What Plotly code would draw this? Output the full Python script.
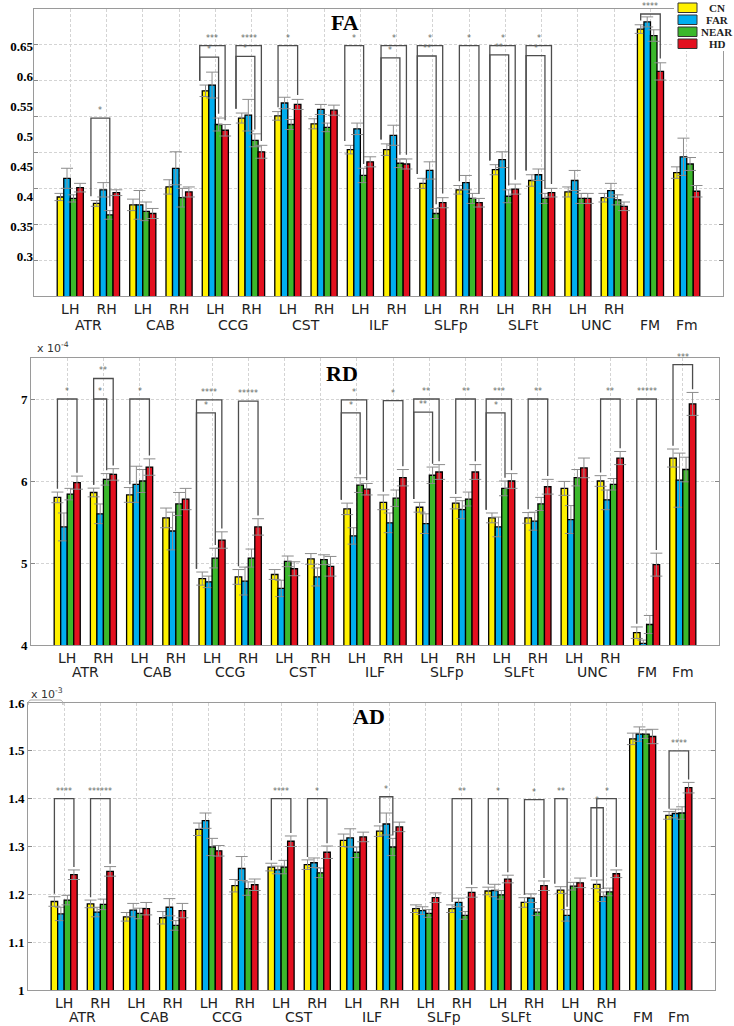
import plotly.graph_objects as go

W, H = 734, 1026

# ---------------- data ----------------
categories = list(range(18))
hemi_labels = ["LH", "RH"] * 8 + ["", ""]
tract_names = ["ATR", "CAB", "CCG", "CST", "ILF", "SLFp", "SLFt", "UNC", "FM", "Fm"]
tract_pos = [0.5, 2.5, 4.5, 6.5, 8.5, 10.5, 12.5, 14.5, 16, 17]
series = ["CN", "FAR", "NEAR", "HD"]
colors = ["#FFF100", "#00AEEF", "#3BB82B", "#E3101F"]

# FA
FA_CN = [0.438, 0.429, 0.427, 0.452, 0.586, 0.548, 0.551, 0.540, 0.504, 0.504, 0.457, 0.448, 0.476, 0.461, 0.445, 0.437, 0.672, 0.472]
FA_FAR = [0.464, 0.448, 0.427, 0.478, 0.594, 0.552, 0.569, 0.560, 0.533, 0.524, 0.475, 0.458, 0.490, 0.469, 0.461, 0.447, 0.682, 0.494]
FA_NEAR = [0.436, 0.413, 0.418, 0.437, 0.539, 0.517, 0.539, 0.535, 0.468, 0.485, 0.415, 0.436, 0.439, 0.436, 0.436, 0.434, 0.663, 0.484]
FA_HD = [0.451, 0.444, 0.415, 0.445, 0.531, 0.501, 0.567, 0.559, 0.487, 0.484, 0.430, 0.430, 0.449, 0.444, 0.436, 0.425, 0.613, 0.446]
FA_CN_err = [0.005, 0.004, 0.008, 0.010, 0.008, 0.007, 0.006, 0.007, 0.006, 0.008, 0.007, 0.006, 0.007, 0.008, 0.007, 0.006, 0.006, 0.008]
FA_FAR_err = [0.014, 0.010, 0.020, 0.023, 0.018, 0.022, 0.008, 0.007, 0.008, 0.014, 0.012, 0.010, 0.011, 0.008, 0.014, 0.010, 0.007, 0.026]
FA_NEAR_err = [0.005, 0.006, 0.013, 0.013, 0.009, 0.009, 0.007, 0.006, 0.010, 0.006, 0.007, 0.007, 0.009, 0.007, 0.007, 0.007, 0.008, 0.009]
FA_HD_err = [0.006, 0.004, 0.007, 0.007, 0.008, 0.009, 0.007, 0.007, 0.007, 0.007, 0.007, 0.006, 0.007, 0.006, 0.007, 0.006, 0.012, 0.008]

# RD (x 1e-4)
RD_CN = [5.80, 5.86, 5.83, 5.55, 4.81, 4.83, 4.86, 5.05, 5.66, 5.74, 5.68, 5.73, 5.55, 5.55, 5.91, 6.00, 4.15, 6.28]
RD_FAR = [5.44, 5.60, 5.96, 5.39, 4.77, 4.78, 4.69, 4.83, 5.33, 5.49, 5.48, 5.65, 5.44, 5.51, 5.53, 5.77, 4.02, 6.01]
RD_NEAR = [5.84, 6.02, 6.00, 5.72, 5.06, 5.06, 5.02, 5.04, 5.95, 5.79, 6.07, 5.78, 5.91, 5.72, 6.04, 5.96, 4.25, 6.14]
RD_HD = [5.98, 6.08, 6.17, 5.78, 5.28, 5.44, 4.93, 4.96, 5.90, 6.04, 6.11, 6.11, 6.00, 5.93, 6.16, 6.28, 4.98, 6.94]
RD_CN_err = [0.065, 0.053, 0.09, 0.12, 0.08, 0.09, 0.06, 0.065, 0.07, 0.09, 0.06, 0.07, 0.06, 0.065, 0.085, 0.065, 0.07, 0.11]
RD_FAR_err = [0.17, 0.12, 0.22, 0.23, 0.07, 0.17, 0.10, 0.11, 0.10, 0.12, 0.12, 0.11, 0.12, 0.11, 0.17, 0.12, 0.04, 0.33]
RD_NEAR_err = [0.07, 0.07, 0.14, 0.14, 0.12, 0.11, 0.065, 0.06, 0.09, 0.10, 0.10, 0.085, 0.09, 0.08, 0.10, 0.07, 0.11, 0.15]
RD_HD_err = [0.08, 0.07, 0.10, 0.13, 0.10, 0.10, 0.085, 0.12, 0.07, 0.10, 0.09, 0.09, 0.09, 0.09, 0.12, 0.08, 0.14, 0.14]

# AD (x 1e-3)
AD_CN = [1.185, 1.180, 1.153, 1.151, 1.336, 1.218, 1.257, 1.262, 1.313, 1.332, 1.170, 1.170, 1.207, 1.183, 1.209, 1.221, 1.525, 1.365]
AD_FAR = [1.159, 1.163, 1.167, 1.173, 1.354, 1.254, 1.251, 1.266, 1.318, 1.347, 1.166, 1.183, 1.208, 1.192, 1.156, 1.195, 1.535, 1.369]
AD_NEAR = [1.188, 1.179, 1.160, 1.135, 1.299, 1.212, 1.257, 1.245, 1.288, 1.299, 1.160, 1.156, 1.199, 1.163, 1.217, 1.205, 1.535, 1.370]
AD_HD = [1.241, 1.248, 1.170, 1.166, 1.291, 1.220, 1.311, 1.288, 1.320, 1.341, 1.193, 1.204, 1.232, 1.218, 1.224, 1.243, 1.530, 1.423]
AD_CN_err = [0.010, 0.008, 0.009, 0.013, 0.013, 0.013, 0.008, 0.010, 0.013, 0.011, 0.008, 0.008, 0.008, 0.010, 0.007, 0.009, 0.012, 0.008]
AD_FAR_err = [0.014, 0.010, 0.014, 0.018, 0.016, 0.025, 0.008, 0.010, 0.019, 0.023, 0.008, 0.009, 0.013, 0.009, 0.012, 0.010, 0.015, 0.009]
AD_NEAR_err = [0.010, 0.011, 0.011, 0.010, 0.018, 0.014, 0.014, 0.010, 0.011, 0.018, 0.008, 0.008, 0.009, 0.007, 0.008, 0.008, 0.009, 0.013]
AD_HD_err = [0.010, 0.010, 0.013, 0.015, 0.011, 0.012, 0.011, 0.013, 0.010, 0.010, 0.010, 0.010, 0.008, 0.010, 0.010, 0.008, 0.015, 0.011]

# significance brackets: (category, compared series index, bracket height, stars, left leg outside CN bar)
FA_SIG = [(1, 2, 0.548, "*", True), (4, 3, 0.649, "***", True), (4, 2, 0.633, "*", True),
          (5, 3, 0.649, "****", True), (5, 2, 0.634, "*", True), (6, 3, 0.649, "*", False),
          (8, 2, 0.649, "*", True), (9, 3, 0.649, "*", True), (9, 2, 0.632, "*", True),
          (10, 3, 0.649, "*", True), (10, 2, 0.6345, "**", True), (11, 3, 0.649, "*", False),
          (12, 3, 0.649, "*", True), (12, 2, 0.636, "**", True), (13, 3, 0.649, "*", True),
          (13, 2, 0.635, "*", True), (16, 3, 0.693, "****", False)]
RD_SIG = [(0, 3, 7.0, "*", False), (1, 3, 7.25, "**", False), (1, 2, 7.0, "*", False),
          (2, 3, 7.0, "*", False), (4, 3, 6.99, "****", True), (4, 2, 6.83, "*", True),
          (5, 3, 6.975, "*****", False), (8, 3, 6.99, "*", True), (8, 2, 6.83, "*", True),
          (9, 3, 6.98, "*", False), (10, 3, 7.0, "**", True), (10, 2, 6.84, "**", True),
          (11, 3, 7.0, "**", False), (12, 3, 7.0, "***", True), (12, 2, 6.83, "*", True),
          (13, 3, 7.0, "**", False), (15, 3, 7.0, "**", False), (16, 3, 7.0, "*****", False),
          (17, 3, 7.42, "***", False)]
AD_SIG = [(0, 3, 1.4, "****", False), (1, 3, 1.4, "******", False), (6, 3, 1.4, "****", False),
          (7, 3, 1.4, "*", False), (9, 2, 1.404, "*", False), (11, 3, 1.4, "**", False),
          (12, 3, 1.4, "*", False), (13, 3, 1.398, "*", False), (14, 1, 1.4, "**", True),
          (15, 3, 1.4, "*", False), (15, 1, 1.381, "*", True), (17, 3, 1.5, "****", False)]

FA_ticks = [0.3, 0.35, 0.4, 0.45, 0.5, 0.55, 0.6, 0.65]
RD_ticks = [4, 5, 6, 7]
AD_ticks = [1.0, 1.1, 1.2, 1.3, 1.4, 1.5, 1.6]
AD_ticktext = ["1", "1.1", "1.2", "1.3", "1.4", "1.5", "1.6"]

# ---------------- layout helpers ----------------
BARGAP = 0.28
bw = (1 - BARGAP) / 4
offsets = [-(1 - BARGAP) / 2 + (k + 0.5) * bw for k in range(4)]


def px(x):
    return x / W


def py(y):
    return 1 - y / H


SANS = "DejaVu Sans"
SERIF = "Liberation Serif"
GRID = "#d4d4d4"
AXC = "#9a9a9a"

fig = go.Figure()

panels = [
    ("x", "y", [FA_CN, FA_FAR, FA_NEAR, FA_HD], [FA_CN_err, FA_FAR_err, FA_NEAR_err, FA_HD_err], FA_SIG, 0.006),
    ("x2", "y2", [RD_CN, RD_FAR, RD_NEAR, RD_HD], [RD_CN_err, RD_FAR_err, RD_NEAR_err, RD_HD_err], RD_SIG, 0.04),
    ("x3", "y3", [AD_CN, AD_FAR, AD_NEAR, AD_HD], [AD_CN_err, AD_FAR_err, AD_NEAR_err, AD_HD_err], AD_SIG, 0.006),
]

for xa, ya, vals, errs, sigs, pad in panels:
    for k in range(4):
        fig.add_trace(go.Bar(
            x=categories, y=vals[k], name=series[k], xaxis=xa, yaxis=ya, showlegend=False,
            marker=dict(color=colors[k], line=dict(color="black", width=1.3)),
            error_y=dict(type="data", array=errs[k], color="#8c8c8c", thickness=1, width=6),
        ))
    for g, k, top, lab, outer in sigs:
        xl = g + offsets[0] - (0.16 if outer else 0.0)
        xr = g + offsets[k]
        yl = vals[0][g] + errs[0][g] + pad
        yr = vals[k][g] + errs[k][g] + pad
        fig.add_shape(type="path", xref=xa, yref=ya,
                      path=f"M {xl},{yl} L {xl},{top} L {xr},{top} L {xr},{yr}",
                      line=dict(color="#4d4d4d", width=1.3))
        fig.add_annotation(x=(xl + xr) / 2, y=top, xref=xa, yref=ya, text=lab, showarrow=False,
                           xanchor="center", yanchor="bottom", yshift=1,
                           font=dict(size=8, color="#666666", family=SANS))

# invisible trace so the FA label axis is rendered
fig.add_trace(go.Scatter(x=[None], y=[None], xaxis="x", yaxis="y4", showlegend=False,
                         hoverinfo="skip", mode="markers"))

xcommon = dict(range=[-1, 18], tickmode="array", tickvals=categories, ticktext=hemi_labels,
               showgrid=True, gridcolor=GRID, griddash="3px,2px", gridwidth=1,
               showline=True, linecolor=AXC, linewidth=1, mirror=True, ticks="",
               zeroline=False, tickfont=dict(family=SANS, size=14, color="#222222"),
               ticklabelstandoff=0)
ycommon = dict(showgrid=True, gridcolor=GRID, griddash="3px,2px", gridwidth=1,
               showline=True, linecolor=AXC, linewidth=1, mirror="ticks", ticks="inside",
               ticklen=4, tickcolor="#888888", zeroline=False,
               tickfont=dict(family=SERIF, size=13, color="black", weight="bold"))

fig.update_layout(
    width=W, height=H, margin=dict(l=0, r=0, t=0, b=0, autoexpand=False),
    paper_bgcolor="white", plot_bgcolor="white",
    barmode="group", bargap=BARGAP, bargroupgap=0,
    xaxis=dict(domain=[px(34), px(723)], anchor="y", **xcommon),
    yaxis=dict(domain=[py(296), py(9)], anchor="x", range=[0.3, 0.7], dtick=0.05,
               tick0=0.3, showticklabels=False, **ycommon),
    yaxis4=dict(overlaying="y", anchor="x", side="left", range=[0.23333, 0.71167],
                tickmode="array", tickvals=FA_ticks, ticktext=[f"{v:g}" for v in FA_ticks],
                showgrid=False, showline=False, zeroline=False, ticks="",
                tickfont=dict(family=SERIF, size=13, color="black", weight="bold")),
    xaxis2=dict(domain=[px(31), px(719)], anchor="y2", **xcommon),
    yaxis2=dict(domain=[py(645), py(358)], anchor="x2", range=[4, 7.5],
                tickmode="array", tickvals=RD_ticks, ticktext=[str(v) for v in RD_ticks], **ycommon),
    xaxis3=dict(domain=[px(28), px(715)], anchor="y3", **xcommon),
    yaxis3=dict(domain=[py(990), py(703)], anchor="x3", range=[1.0, 1.6],
                tickmode="array", tickvals=AD_ticks, ticktext=AD_ticktext, **ycommon),
)

# tract names below hemisphere labels
for xa, ypix in (("x", 325), ("x2", 672), ("x3", 1017)):
    for name, pos in zip(tract_names, tract_pos):
        fig.add_annotation(x=pos, y=py(ypix), xref=xa, yref="paper", text=name, showarrow=False,
                           xanchor="center", yanchor="middle",
                           font=dict(family=SANS, size=14, color="#222222"))

# panel titles
for t, xpix, ypix in (("FA", 345, 23), ("RD", 342, 374), ("AD", 369, 716)):
    fig.add_annotation(x=px(xpix), y=py(ypix), xref="paper", yref="paper", text=f"<b>{t}</b>",
                       showarrow=False, xanchor="center", yanchor="middle",
                       font=dict(family=SERIF, size=22, color="black"))

# exponent labels
fig.add_annotation(x=px(35), y=py(347), xref="paper", yref="paper", text="x 10<sup>-4</sup>",
                   showarrow=False, xanchor="left", yanchor="middle",
                   font=dict(family=SANS, size=11, color="#333333"))
fig.add_annotation(x=px(29), y=py(693), xref="paper", yref="paper", text="x 10<sup>-3</sup>",
                   showarrow=False, xanchor="left", yanchor="middle",
                   font=dict(family=SANS, size=11, color="#333333"))
fig.add_shape(type="path", xref="paper", yref="paper", layer="above",
              path=f"M {px(28)},{py(705)} Q {px(28)},{py(700)} {px(31)},{py(700)} L {px(60)},{py(700)} Q {px(63)},{py(700)} {px(63)},{py(705)}",
              line=dict(color="#aaaaaa", width=1))

# legend (top right)
fig.add_shape(type="rect", xref="paper", yref="paper", layer="above",
              x0=px(674), x1=px(734), y0=py(51), y1=py(0), fillcolor="white", line=dict(width=0))
for k, name in enumerate(series):
    top = 3 + k * 12
    fig.add_shape(type="rect", xref="paper", yref="paper", layer="above",
                  x0=px(678), x1=px(697), y0=py(top + 9.5), y1=py(top),
                  fillcolor=colors[k], line=dict(color="#333333", width=1))
    fig.add_annotation(x=px(717), y=py(top + 5), xref="paper", yref="paper", text=f"<b>{name}</b>",
                       showarrow=False, xanchor="center", yanchor="middle",
                       font=dict(family=SERIF, size=11, color="#222222"))

fig.write_html("out.html", config={"displayModeBar": False},
               post_script="document.body.style.margin='0px';")
